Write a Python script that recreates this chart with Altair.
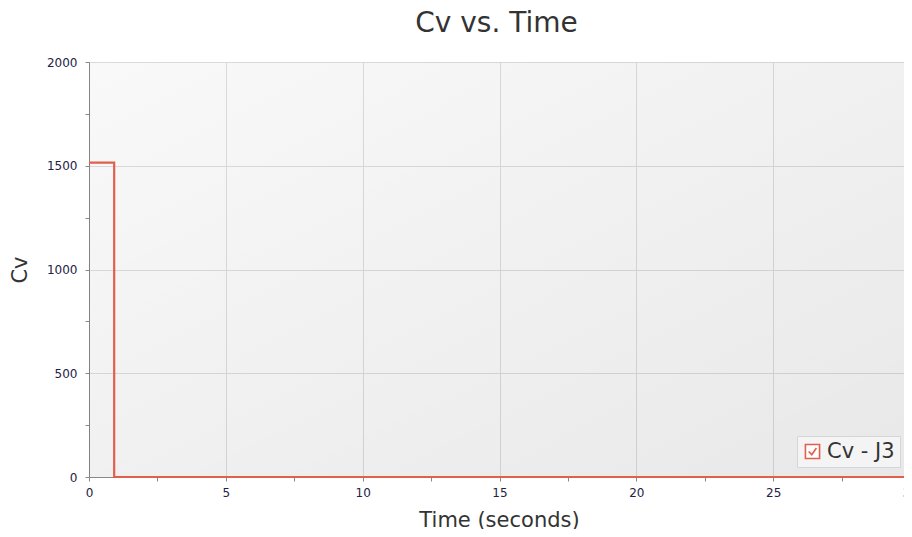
import altair as alt
import pandas as pd

# Data
time_s = [0.0, 0.92, 30.0]
cv_vals = [1515, 0, 0]
series = ["Cv - J3", "Cv - J3", "Cv - J3"]

x_ticks = [i * 2.5 for i in range(13)]
y_ticks = [i * 250 for i in range(9)]

df = pd.DataFrame({"Time": time_s, "Cv": cv_vals, "Series": series})

FONT = "DejaVu Sans"
RED = "#e2604b"

x_axis = alt.Axis(
    values=x_ticks,
    labelExpr="datum.value % 5 == 0 ? datum.label : ''",
    gridOpacity={"condition": {"test": "datum.value % 5 == 0", "value": 1}, "value": 0},
    title="Time (seconds)",
    titleFontSize=21,
    titleFontWeight="normal",
    titleColor="#333333",
    titlePadding=11,
    titleX=410,
    labelFontSize=12,
    labelColor="#222244",
    labelPadding=6,
    tickSize=4,
    tickColor="#888888",
    domainColor="#888888",
    gridColor="#e0e0e0",
    labelFlush=False,
)
y_axis = alt.Axis(
    values=y_ticks,
    labelExpr="datum.value % 500 == 0 ? datum.label : ''",
    gridOpacity={"condition": {"test": "datum.value % 500 == 0", "value": 1}, "value": 0},
    title="Cv",
    titleFontSize=21,
    titleFontWeight="normal",
    titleColor="#333333",
    titlePadding=16,
    labelFontSize=12,
    labelColor="#222244",
    labelPadding=8,
    tickSize=4,
    tickColor="#888888",
    domainColor="#888888",
    gridColor="#e0e0e0",
    format="d",
)

bg = (
    alt.Chart(pd.DataFrame({"a": [0]}))
    .mark_rect(
        color=alt.LinearGradient(
            gradient="linear",
            x1=0, y1=0, x2=1, y2=1,
            stops=[alt.GradientStop(color="rgba(0,0,0,0.025)", offset=0),
                   alt.GradientStop(color="rgba(0,0,0,0.09)", offset=1)],
        )
    )
    .encode(x=alt.value(0), x2=alt.value(821), y=alt.value(0), y2=alt.value("height"))
)

line = (
    alt.Chart(df)
    .mark_line(interpolate="step-after", strokeWidth=2.2)
    .encode(
        x=alt.X("Time:Q", scale=alt.Scale(domain=[0, 30], range=[0, 821], nice=False), axis=x_axis),
        y=alt.Y("Cv:Q", scale=alt.Scale(domain=[0, 2000], nice=False), axis=y_axis),
        color=alt.Color(
            "Series:N",
            scale=alt.Scale(range=[RED]),
            legend=alt.Legend(
                title=None,
                orient="none",
                legendX=708,
                legendY=374,
                symbolType="M-1,-1H1V1H-1Z M-0.55,0.0 L-0.1,0.45 L0.55,-0.5",
                symbolSize=200,
                symbolStrokeWidth=1.6,
                symbolFillColor="#ffffff",
                labelFontSize=21,
                labelColor="#333333",
                labelFont=FONT,
                fillColor="#f4f4f4",
                strokeColor="#d6d6d6",
                padding=5,
            ),
        ),
    )
)

chart = (
    alt.layer(bg, line)
    .properties(
        width=815,
        height=415,
        autosize=alt.AutoSizeParams(type="none"),
        padding={"left": 81, "top": 54, "right": 0, "bottom": 52},
        title=alt.TitleParams(
            "Cv vs. Time", fontSize=28, font=FONT, fontWeight="normal",
            color="#333333", offset=18, anchor="middle",
        ),
    )
    .configure_axis(labelFont=FONT, titleFont=FONT)
    .configure_view(stroke=None)
)

chart.save("out.html", embed_options={"renderer": "svg", "actions": False})
